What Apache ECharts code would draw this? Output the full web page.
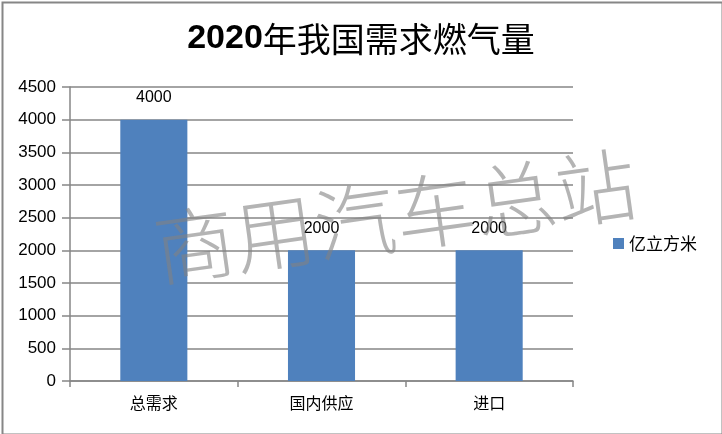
<!DOCTYPE html>
<html><head><meta charset="utf-8">
<script src="https://cdn.jsdelivr.net/npm/echarts@6/dist/echarts.min.js"></script>
<style>html,body{margin:0;padding:0;background:#fff}#c{width:722px;height:434px}</style>
</head><body><div id="c"></div>
<script>
const categories = ['总需求', '国内供应', '进口'];
const values = [4000, 2000, 2000];
const seriesName = '亿立方米';
const yTicks = {min: 0, max: 4500, interval: 500};
const titleYear = '2020';
const titleRest = '年我国需求燃气量';
const watermark = '商用汽车总站';

const chart = echarts.init(document.getElementById('c'), null, {renderer: 'canvas'});
chart.setOption({
  animation: false,
  backgroundColor: '#fff',
  title: {
    text: '{a|' + titleYear + '}{b|' + titleRest + '}',
    left: 'center', top: 17,
    textStyle: {
      rich: {
        a: {fontFamily: 'Liberation Sans, Arial', fontWeight: 'bold', fontSize: 34, color: '#000'},
        b: {fontFamily: 'Noto Sans CJK SC', fontWeight: 'normal', fontSize: 34, color: '#000'}
      }
    }
  },
  grid: {left: 70, right: 149, top: 87, bottom: 53, containLabel: false},
  legend: {
    data: [seriesName], right: 20, top: 230, orient: 'vertical',
    itemWidth: 11, itemHeight: 11, icon: 'rect', itemGap: 6,
    textStyle: {fontFamily: 'Noto Sans CJK SC', fontSize: 17, color: '#000'}
  },
  xAxis: {
    type: 'category', data: categories,
    axisLine: {lineStyle: {color: '#868686', width: 1.5}},
    axisTick: {show: true, length: 6, lineStyle: {color: '#868686', width: 1.5}},
    axisLabel: {fontFamily: 'Noto Sans CJK SC', fontSize: 16, color: '#000', margin: 14}
  },
  yAxis: {
    type: 'value', min: yTicks.min, max: yTicks.max, interval: yTicks.interval,
    axisLine: {show: true, lineStyle: {color: '#868686', width: 1.5}},
    axisTick: {show: true, length: 8, lineStyle: {color: '#868686', width: 1.5}},
    splitLine: {lineStyle: {color: '#868686', width: 1.5}},
    axisLabel: {fontFamily: 'Liberation Sans, Arial', fontSize: 17, color: '#000', margin: 14,
      formatter: function (v) { return String(v); }}
  },
  series: [{
    name: seriesName, type: 'bar', data: values, barWidth: '40%',
    itemStyle: {color: '#4F81BD'},
    label: {show: true, position: 'top', distance: 14, fontFamily: 'Liberation Sans, Arial', fontSize: 16, color: '#000'}
  }],
  graphic: [
    {type: 'rect', left: 0, top: 0, shape: {x: 1, y: 1, width: 720, height: 432},
     style: {fill: 'none', stroke: '#868686', lineWidth: 2}, z: 100},
    {type: 'text', x: 160, y: 290, rotation: 8 * Math.PI / 180, z: 100,
     style: {text: watermark, fontFamily: 'Noto Sans CJK SC', fontWeight: 200, fontSize: 81,
       fill: 'rgba(130,130,130,0.6)', textVerticalAlign: 'bottom'}}
  ]
});
</script></body></html>
